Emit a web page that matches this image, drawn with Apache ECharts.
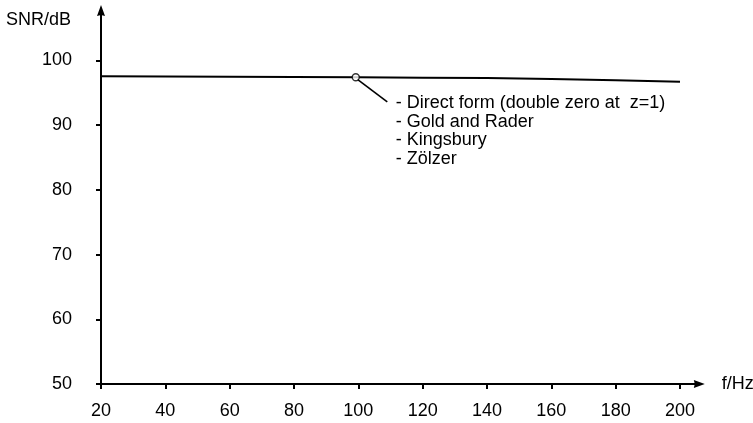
<!DOCTYPE html>
<html>
<head>
<meta charset="utf-8">
<script src="https://cdn.jsdelivr.net/npm/echarts@6/dist/echarts.min.js"></script>
<style>
html,body{margin:0;padding:0;background:#fff;}
#chart{width:753px;height:423px;}
</style>
</head>
<body>
<div id="chart"></div>
<script>
// ---- data ----
const freqs = [20, 40, 60, 80, 100, 120, 140, 160, 180, 200];
const snr = [97.53, 97.49, 97.45, 97.41, 97.37, 97.33, 97.26, 97.10, 96.92, 96.70];
const xTicks = [20, 40, 60, 80, 100, 120, 140, 160, 180, 200];
const yTicks = [50, 60, 70, 80, 90, 100];
const annotationFreq = 99.2;
const annotationSNR = 97.38;
const annotationLines = [
  '- Direct form (double zero at  z=1)',
  '- Gold and Rader',
  '- Kingsbury',
  '- Zölzer'
];
const xName = 'f/Hz';
const yName = 'SNR/dB';

const FONT = 'Liberation Sans, Arial, sans-serif';
const ARROW = 'path://M0,0L4,11L0,10L-4,11Z';
const chart = echarts.init(document.getElementById('chart'));
const axisLineStyle = { color: '#000', width: 2 };

chart.setOption({
  animation: false,
  backgroundColor: '#fff',
  grid: { left: 101, right: 53.7, top: 10.5, bottom: 39, containLabel: false, outerBoundsMode: 'none' },
  xAxis: {
    type: 'value',
    min: 20, max: 206,
    name: xName,
    nameLocation: 'end',
    nameGap: 22.5,
    nameTextStyle: { color: '#000', fontSize: 18, fontFamily: FONT, verticalAlign: 'middle' },
    axisLine: { show: true, onZero: false, lineStyle: axisLineStyle, symbol: ['none', ARROW], symbolSize: [8, 11] },
    axisTick: { show: true, length: 5, lineStyle: { color: '#000', width: 2 }, customValues: xTicks },
    axisLabel: { color: '#000', fontSize: 18, fontFamily: FONT, margin: 18, customValues: xTicks },
    splitLine: { show: false }
  },
  yAxis: {
    type: 'value',
    min: 50, max: 107.7,
    name: yName,
    nameLocation: 'end',
    nameGap: -9.5,
    nameTextStyle: { color: '#000', fontSize: 18, fontFamily: FONT, align: 'right', verticalAlign: 'middle', padding: [0, 30, 0, 0] },
    axisLine: { show: true, onZero: false, lineStyle: axisLineStyle, symbol: ['none', ARROW], symbolSize: [8, 11] },
    axisTick: { show: true, length: 5, lineStyle: { color: '#000', width: 2 }, customValues: yTicks },
    axisLabel: { color: '#000', fontSize: 18, fontFamily: FONT, margin: 29, customValues: yTicks },
    splitLine: { show: false }
  },
  series: [
    {
      type: 'line',
      data: freqs.map((f, i) => [f, snr[i]]),
      showSymbol: false,
      symbol: 'none',
      lineStyle: { color: '#000', width: 2 },
      z: 2
    },
    {
      type: 'scatter',
      data: [[annotationFreq, annotationSNR]],
      symbol: 'circle',
      symbolSize: 7,
      itemStyle: { color: '#fff', borderColor: '#000', borderWidth: 1.4 },
      z: 3
    }
  ]
});

// annotation leader line + text anchored on the annotated data point
const p = chart.convertToPixel({ gridIndex: 0 }, [annotationFreq, annotationSNR]);
chart.setOption({
  graphic: [
    {
      type: 'line',
      shape: { x1: p[0] + 2, y1: p[1] + 2.3, x2: p[0] + 31.5, y2: p[1] + 24.5 },
      style: { stroke: '#000', lineWidth: 1.6 },
      z: 10
    },
    {
      type: 'text',
      x: p[0] + 40,
      y: p[1] + 17,
      style: {
        text: annotationLines.join('\n'),
        fill: '#000',
        font: '18px ' + FONT,
        lineHeight: 18.4,
        textAlign: 'left',
        textVerticalAlign: 'top'
      },
      z: 10
    }
  ]
});
</script>
</body>
</html>
